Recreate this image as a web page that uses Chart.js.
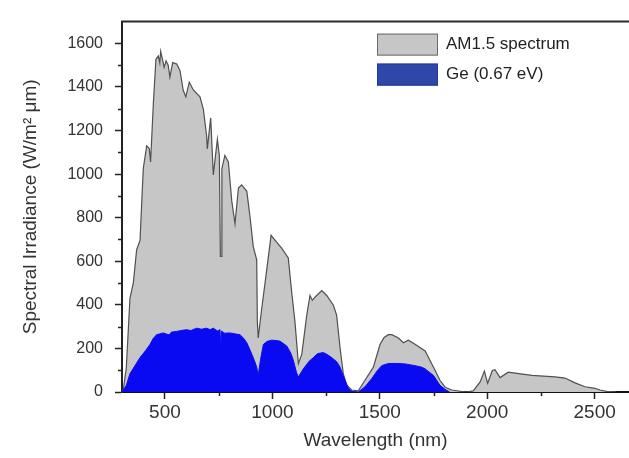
<!DOCTYPE html>
<html>
<head>
<meta charset="utf-8">
<script src="https://cdn.jsdelivr.net/npm/chart.js@4.4.0/dist/chart.umd.min.js"></script>
<style>
  html, body { margin: 0; padding: 0; background: #fff; }
  #wrap { width: 629px; height: 458px; position: relative; }
</style>
</head>
<body>
<div id="wrap"><canvas id="spectrumChart"></canvas></div>
<script>
  // AM1.5 spectrum (nm, W/m2 um)
  const amWavelength = [300, 306, 313, 320, 328, 337, 353, 368, 384, 399, 415, 427, 433, 446, 458, 469, 476, 480, 490, 496,
    505, 515, 523, 536, 555, 570, 585, 597, 613, 632, 663, 679, 694, 697, 713, 725, 744, 753, 758, 761,
    765, 779, 795, 811, 826, 842, 857, 881, 896, 911, 927, 930, 934, 950, 966, 994, 1012, 1043, 1074, 1090,
    1105, 1121, 1137, 1160, 1175, 1186, 1198, 1230, 1253, 1284, 1299, 1315, 1330, 1346, 1369, 1400, 1431, 1470, 1501, 1520,
    1540, 1556, 1587, 1610, 1633, 1664, 1711, 1750, 1780, 1804, 1835, 1900, 1935, 1967, 1987, 2002, 2024, 2036, 2060, 2098,
    2130, 2208, 2316, 2362, 2409, 2455, 2502, 2525, 2560, 2600];
  const amIrradiance = [0, 10, 60, 110, 260, 430, 502, 652, 697, 1026, 1130, 1117, 1056, 1325, 1527, 1542, 1510, 1564, 1520, 1490,
    1520, 1500, 1445, 1512, 1505, 1475, 1385, 1355, 1422, 1386, 1355, 1296, 1175, 1116, 1258, 996, 1160, 1086, 622, 622,
    1026, 1086, 1056, 876, 772, 936, 951, 921, 803, 667, 607, 323, 248, 380, 502, 719, 697, 660, 615, 458,
    323, 130, 174, 353, 443, 421, 435, 465, 443, 398, 353, 203, 84, 31, 9, 5, 54, 114, 218, 250,
    263, 263, 248, 226, 238, 219, 188, 114, 54, 22, 9, 0, 5, 46, 96, 40, 99, 102, 66, 91,
    87, 76, 69, 64, 42, 24, 17, 9, 2, 0];

  // Ge (0.67 eV) usable part
  const geWavelength = [300, 320, 337, 360, 384, 410, 430, 445, 461, 492, 520, 530, 555, 580, 601, 620, 648, 670, 694, 710,
    725, 745, 756, 760, 764, 775, 803, 830, 849, 865, 881, 904, 918, 927, 934, 945, 958, 975, 997, 1020,
    1036, 1067, 1085, 1098, 1112, 1121, 1144, 1170, 1191, 1210, 1237, 1255, 1276, 1300, 1315, 1330, 1338, 1354, 1370, 1400,
    1431, 1462, 1490, 1509, 1540, 1580, 1617, 1664, 1695, 1711, 1750, 1780, 1804, 1825];
  const geIrradiance = [0, 30, 84, 120, 158, 190, 218, 245, 263, 271, 262, 275, 278, 283, 286, 282, 293, 288, 293, 286,
    293, 280, 286, 200, 280, 270, 271, 266, 263, 248, 226, 174, 140, 114, 76, 150, 218, 232, 238, 236,
    233, 211, 180, 144, 90, 69, 106, 140, 158, 176, 181, 172, 158, 138, 114, 75, 54, 17, 3, 0,
    24, 61, 100, 121, 131, 131, 129, 121, 114, 106, 76, 31, 12, 0];

  const xTickValues = [500, 1000, 1500, 2000, 2500];
  const xMinorTicks = [750, 1250, 1750, 2250];
  const yTickValues = [0, 200, 400, 600, 800, 1000, 1200, 1400, 1600];
  const yMinorTicks = [100, 300, 500, 700, 900, 1100, 1300, 1500];

  const legendSwatch = ['#c6c6c6', '#2f47a8'];
  const legendEdge = ['#6a6a6a', '#22389a'];

  Chart.defaults.font.family = '"Liberation Sans", Arial, Helvetica, sans-serif';
  Chart.defaults.color = '#333';

  // minor tick marks, top frame line and the in-plot legend
  const extras = {
    id: 'extras',
    afterDraw(chart) {
      const ctx = chart.ctx;
      const area = chart.chartArea;
      const xs = chart.scales.x, ys = chart.scales.y;
      ctx.save();
      ctx.strokeStyle = '#222';
      ctx.lineWidth = 1.5;
      ctx.beginPath();
      xMinorTicks.forEach(v => {
        const px = Math.round(xs.getPixelForValue(v)) + 0.5;
        ctx.moveTo(px, area.bottom);
        ctx.lineTo(px, area.bottom + 4);
      });
      yMinorTicks.forEach(v => {
        const py = Math.round(ys.getPixelForValue(v)) + 0.5;
        ctx.moveTo(area.left, py);
        ctx.lineTo(area.left - 4, py);
      });
      ctx.stroke();

      ctx.strokeStyle = '#2a2a2a';
      ctx.lineWidth = 2;
      ctx.beginPath();
      ctx.moveTo(area.left - 1, area.top);
      ctx.lineTo(area.right, area.top);
      ctx.stroke();

      // legend
      ctx.font = '17px "Liberation Sans", Arial, sans-serif';
      ctx.textBaseline = 'middle';
      ctx.textAlign = 'left';
      const lx = area.right - 252;
      let ly = area.top + 12;
      const order = [1, 0];
      order.forEach((di, i) => {
        ctx.fillStyle = legendSwatch[i];
        ctx.fillRect(lx, ly, 61, 22);
        ctx.strokeStyle = legendEdge[i];
        ctx.lineWidth = 1;
        ctx.strokeRect(lx + 0.5, ly + 0.5, 60, 21);
        ctx.fillStyle = '#222';
        ctx.fillText(chart.data.datasets[di].label, lx + 69, ly + 11);
        ly += 30;
      });
      ctx.restore();
    }
  };

  new Chart(document.getElementById('spectrumChart'), {
    type: 'line',
    data: {
      datasets: [
        {
          label: 'Ge (0.67 eV)',
          data: geWavelength.map((w, i) => ({ x: w, y: geIrradiance[i] })),
          borderColor: '#0a0af2',
          backgroundColor: '#0a0af2',
          borderWidth: 1,
          pointRadius: 0,
          fill: 'origin'
        },
        {
          label: 'AM1.5 spectrum',
          data: amWavelength.map((w, i) => ({ x: w, y: amIrradiance[i] })),
          borderColor: '#505050',
          backgroundColor: '#c6c6c6',
          borderWidth: 1.2,
          pointRadius: 0,
          fill: 'origin'
        }
      ]
    },
    options: {
      responsive: true,
      maintainAspectRatio: false,
      animation: false,
      layout: { padding: { top: 13, right: 0, left: 0, bottom: 0 } },
      plugins: {
        legend: { display: false },
        tooltip: { enabled: false }
      },
      scales: {
        x: {
          type: 'linear',
          min: 300,
          max: 2660,
          afterBuildTicks: scale => { scale.ticks = xTickValues.map(v => ({ value: v })); },
          afterFit: scale => { scale.height = 66; },
          border: { color: '#111', width: 2 },
          grid: { drawOnChartArea: false, tickLength: 7, tickColor: '#222', tickWidth: 1.5 },
          ticks: { font: { size: 19 }, color: '#333', padding: 2, maxRotation: 0, callback: v => String(v) },
          title: {
            display: true,
            text: 'Wavelength (nm)',
            font: { size: 19 },
            color: '#333',
            padding: { top: 0, bottom: 6 }
          }
        },
        y: {
          min: 0,
          max: 1700,
          afterBuildTicks: scale => { scale.ticks = yTickValues.map(v => ({ value: v })); },
          afterFit: scale => { scale.width = 122; },
          border: { color: '#222', width: 2 },
          grid: { drawOnChartArea: false, tickLength: 7, tickColor: '#222', tickWidth: 1.5 },
          ticks: { font: { size: 16 }, color: '#333', padding: 12, callback: v => String(v) },
          title: {
            display: true,
            text: 'Spectral Irradiance (W/m\u00B2 \u03BCm)',
            font: { size: 19 },
            color: '#333',
            padding: { top: 19, bottom: 0 }
          }
        }
      }
    },
    plugins: [extras]
  });
</script>
</body>
</html>
